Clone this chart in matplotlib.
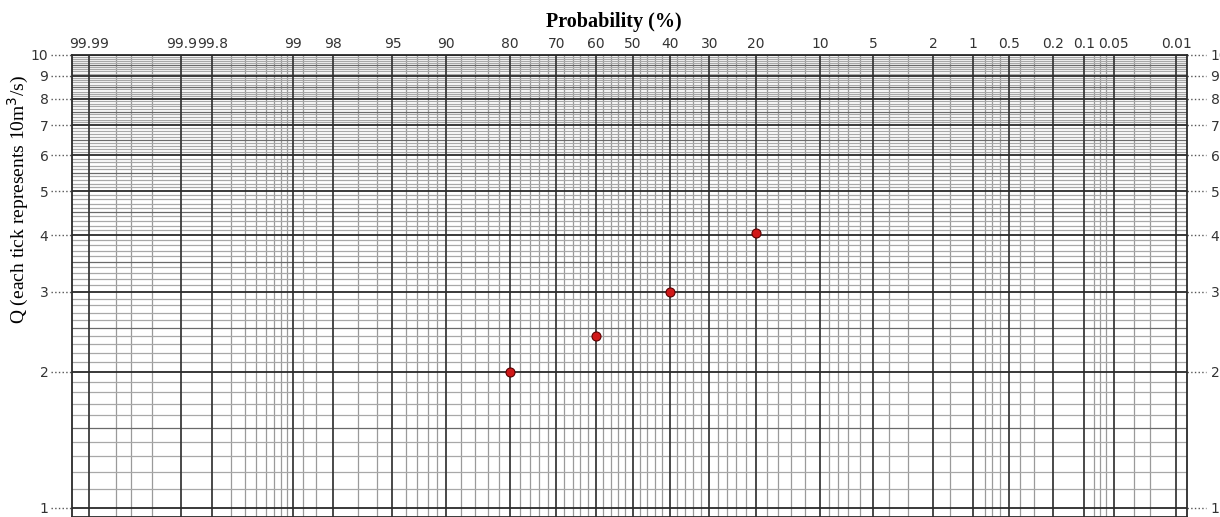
import numpy as np
import matplotlib
matplotlib.use("Agg")
from matplotlib import pyplot as plt
from statistics import NormalDist

# data
prob = [80, 60, 40, 20]          # exceedance probability (%)
q = [2.0, 2.4, 3.0, 4.05]        # Q, each tick = 10 m3/s

prob_labels = [99.99, 99.9, 99.8, 99, 98, 95, 90, 80, 70, 60, 50, 40, 30, 20,
               10, 5, 2, 1, 0.5, 0.2, 0.1, 0.05, 0.01]
prob_minor = [99.98, 99.97, 99.95, 99.7, 99.6, 99.5, 99.4, 99.3, 99.2, 99.1, 98.8,
              98.5, 97, 96, 94, 93, 92, 91, 88, 86, 84, 82, 78, 76, 74, 72, 68, 66,
              64, 62, 58, 56, 54, 52, 48, 46, 44, 42, 38, 36, 34, 32, 28, 26, 24,
              22, 18, 16, 14, 12, 9, 8, 7, 6, 4, 3, 1.5, 0.8, 0.7, 0.6, 0.4, 0.3,
              0.08, 0.07, 0.06, 0.03, 0.02]
q_labels = [1, 2, 3, 4, 5, 6, 7, 8, 9, 10]

nd = NormalDist()
_ppf = np.vectorize(lambda v: nd.inv_cdf(v / 100.0), otypes=[float])
_cdf = np.vectorize(lambda v: 100.0 * nd.cdf(v), otypes=[float])


def fwd(p):
    p = np.clip(np.asarray(p, dtype=float), 1e-7, 100 - 1e-7)
    return _ppf(p)


def inv(z):
    return _cdf(np.asarray(z, dtype=float))


fig = plt.figure(figsize=(12.2, 5.17), dpi=100)
ax = fig.add_axes([72 / 1220, 0.0, (1187 - 72) / 1220, 1 - 55 / 517])
ax.set_xscale("function", functions=(fwd, inv))
ax.set_yscale("log")
ax.set_xlim(99.9938, 0.00745)
ax.set_ylim(0.955, 10)

# grid of the probability paper
for p in prob_minor:
    ax.axvline(p, color="#9a9a9a", lw=0.9, zorder=1)
for p in prob_labels:
    ax.axvline(p, color="#3a3a3a", lw=1.3, zorder=2)
for v in np.arange(1.0, 10.0, 0.1):
    v = round(v, 1)
    if v in q_labels:
        continue
    c = "#6a6a6a" if abs(v * 2 - round(v * 2)) < 1e-6 else "#a8a8a8"
    ax.axhline(v, color=c, lw=0.9, zorder=1)
for v in q_labels:
    ax.axhline(v, color="#2a2a2a", lw=1.3, zorder=2)

ax.plot(prob, q, "o", ms=6.5, mfc="#d01818", mec="#5a0000", mew=0.8, zorder=5)

# ticks: probability on top, Q on both sides
ax.xaxis.tick_top()
ax.set_xticks(prob_labels)
ax.set_xticklabels([f"{p:g}" for p in prob_labels])
ax.set_xticks([], minor=True)
ax.tick_params(axis="x", length=0, pad=3, labelsize=10, labelcolor="#333333")
ax.set_yticks(q_labels)
ax.set_yticklabels([str(v) for v in q_labels])
ax.set_yticks([], minor=True)
ax.tick_params(axis="y", which="both", length=0, pad=17, labelsize=10,
               labelcolor="#333333", right=True, labelright=True)
for lab in ax.get_xticklabels() + ax.get_yticklabels():
    lab.set_family("DejaVu Sans")

# dotted leaders from the numbers to the frame
ytr = ax.get_yaxis_transform()
for v in q_labels:
    ax.plot([-0.019, 0], [v, v], transform=ytr, ls=":", color="#555555", lw=1,
            clip_on=False)
    ax.plot([1, 1.017], [v, v], transform=ytr, ls=":", color="#555555", lw=1,
            clip_on=False)

for s in ax.spines.values():
    s.set_color("#2a2a2a")
    s.set_linewidth(1.3)

fig.text(614 / 1220, 1 - 22 / 517, "Probability (%)", ha="center", va="center",
         family="Liberation Serif", fontweight="bold", fontsize=14.5)
fig.text(18 / 1220, 1 - 200 / 517, "Q (each tick represents 10m$^3$/s)",
         rotation=90, ha="center", va="center", family="Liberation Serif",
         fontsize=14)

fig.savefig("out.png", dpi=100)
